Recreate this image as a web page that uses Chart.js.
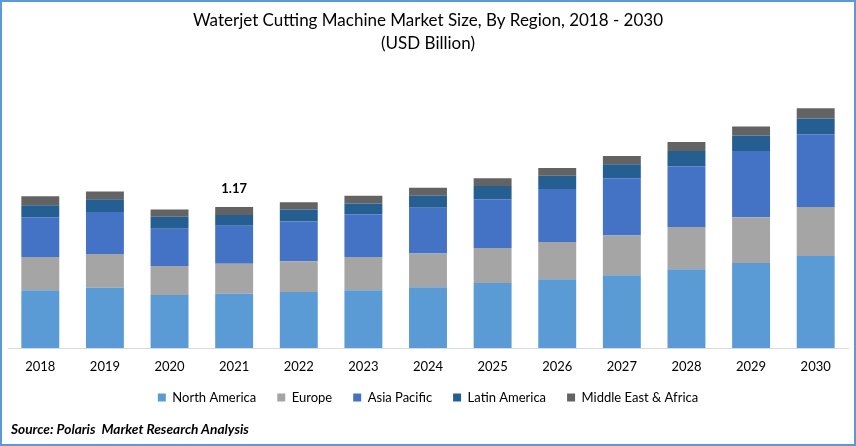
<!DOCTYPE html>
<html>
<head>
<meta charset="utf-8">
<title>Waterjet Cutting Machine Market Size</title>
<script src="https://cdn.jsdelivr.net/npm/chart.js@4"></script>
<style>
  html, body { margin: 0; padding: 0; background: #fff; }
  #wrap { position: relative; width: 856px; height: 446px; overflow: hidden; }
  #frame { position: absolute; inset: 0; border: 2px solid #5b9bd5; pointer-events: none; }
  #source { position: absolute; left: 11px; top: 420px; font: italic bold 13.7px Lato, sans-serif; color: #000; white-space: pre; }
</style>
</head>
<body>
<div id="wrap">
  <canvas id="chart" width="856" height="446"></canvas>
  <div id="frame"></div>
  <div id="source">Source: Polaris  Market Research Analysis</div>
</div>
<script>
const years = ["2018", "2019", "2020", "2021", "2022", "2023", "2024", "2025", "2026", "2027", "2028", "2029", "2030"];

// USD billion
const northAmerica = [0.48, 0.50, 0.44, 0.45, 0.465, 0.48, 0.505, 0.54, 0.57, 0.605, 0.655, 0.705, 0.765];
const europe = [0.275, 0.28, 0.24, 0.25, 0.255, 0.275, 0.28, 0.29, 0.31, 0.33, 0.35, 0.38, 0.405];
const asiaPacific = [0.33, 0.35, 0.31, 0.315, 0.33, 0.355, 0.38, 0.405, 0.44, 0.475, 0.505, 0.55, 0.605];
const latinAmerica = [0.10, 0.105, 0.10, 0.09, 0.10, 0.09, 0.10, 0.11, 0.11, 0.115, 0.125, 0.13, 0.13];
const middleEastAfrica = [0.075, 0.065, 0.06, 0.065, 0.06, 0.065, 0.065, 0.065, 0.065, 0.07, 0.075, 0.075, 0.085];

const calloutYear = "2021";
const calloutText = "1.17";

const FONT = "Lato, sans-serif";

// the 1.17 label above the 2021 stack
const calloutPlugin = {
  id: "callout",
  afterDatasetsDraw(chart) {
    const i = years.indexOf(calloutYear);
    const top = chart.getDatasetMeta(4).data[i];
    const ctx = chart.ctx;
    ctx.save();
    ctx.font = "bold 13px " + FONT;
    ctx.fillStyle = "#000";
    ctx.textAlign = "center";
    ctx.textBaseline = "bottom";
    ctx.fillText(calloutText, top.x, top.y - 12);
    ctx.restore();
  }
};

// legend padding also sets the gaps between items, so lift it back up a bit
const legendLiftPlugin = {
  id: "legendLift",
  afterLayout(chart) {
    chart.legend.top -= 5;
  }
};

new Chart(document.getElementById("chart"), {
  type: "bar",
  data: {
    labels: years,
    datasets: [
      { label: "North America", data: northAmerica, backgroundColor: "#5b9bd5" },
      { label: "Europe", data: europe, backgroundColor: "#a5a5a5" },
      { label: "Asia Pacific", data: asiaPacific, backgroundColor: "#4472c4" },
      { label: "Latin America", data: latinAmerica, backgroundColor: "#255e91" },
      { label: "Middle East & Africa", data: middleEastAfrica, backgroundColor: "#636363" }
    ]
  },
  options: {
    responsive: false,
    animation: false,
    layout: { padding: { top: 2, left: 8, right: 8, bottom: 27 } },
    datasets: { bar: { categoryPercentage: 1, barPercentage: 0.587 } },
    plugins: {
      title: {
        display: true,
        text: ["Waterjet Cutting Machine Market Size, By Region, 2018 - 2030", "(USD Billion)"],
        color: "#000",
        font: { family: FONT, size: 17, weight: "normal", lineHeight: 1.353 },
        padding: { top: 7, bottom: 4 }
      },
      legend: {
        position: "bottom",
        labels: {
          boxWidth: 8,
          boxHeight: 8,
          padding: 21,
          color: "#000",
          font: { family: FONT, size: 13 }
        }
      },
      tooltip: { enabled: false }
    },
    scales: {
      x: {
        stacked: true,
        grid: { display: false, drawTicks: false },
        border: { color: "#d9d9d9", width: 1 },
        ticks: { color: "#000", padding: 11, maxRotation: 0, font: { family: FONT, size: 13 } },
        afterFit(scale) { scale.height = 27; }
      },
      y: {
        stacked: true,
        display: false,
        min: 0,
        max: 2.4
      }
    }
  },
  plugins: [calloutPlugin, legendLiftPlugin]
});
</script>
</body>
</html>
